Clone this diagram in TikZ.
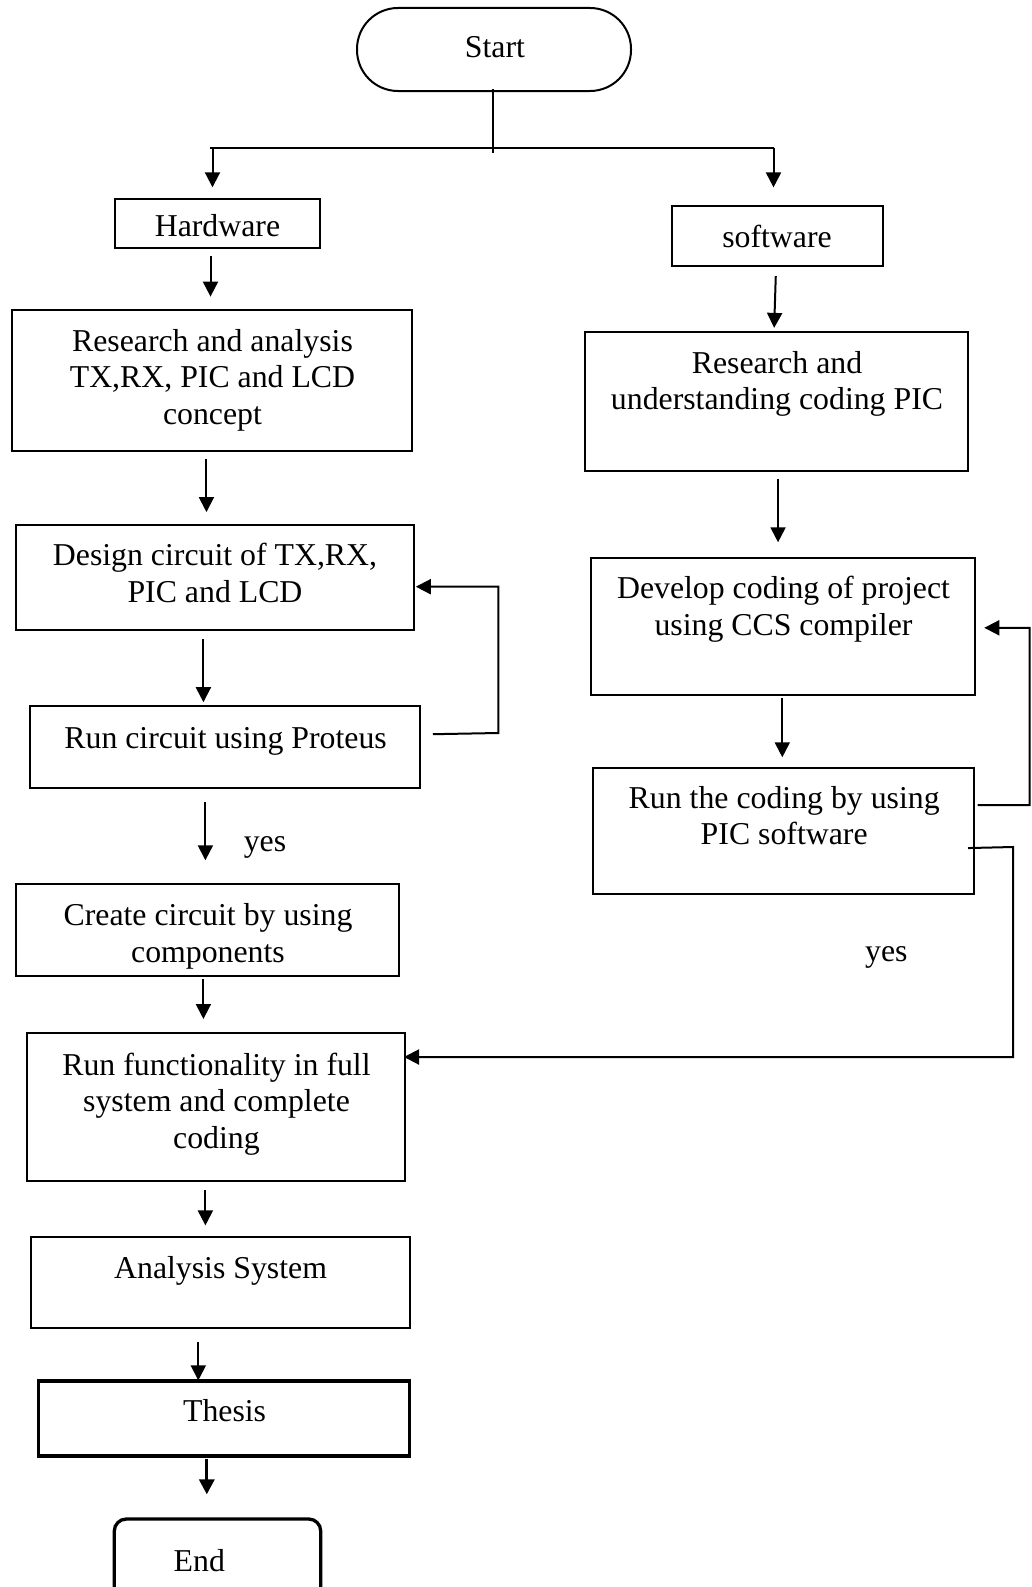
\documentclass[tikz,border=0pt]{standalone}
\usepackage{fontspec}
\setmainfont{Liberation Serif}
\usetikzlibrary{arrows.meta}
\begin{document}
\begin{tikzpicture}[x=1pt,y=-1pt,
  box/.style={draw, line width=2pt, inner sep=0pt},
  thickbox/.style={draw, line width=3.3pt, inner sep=0pt},
  txt/.style={font=\fontsize{31.8}{36.6}\selectfont, align=center, inner sep=0pt},
  arr/.style={line width=2pt, -{Triangle[length=15pt,width=15pt]}},
  thickarr/.style={line width=3.3pt, -{Triangle[length=15pt,width=15pt]}},
  ln/.style={line width=2pt}]
\useasboundingbox (0,0) rectangle (1031,1587);
% boxes
\node[box, rounded corners=41pt, minimum width=274pt, minimum height=83pt] (start) at (494,49.5) {};
\node[box, minimum width=204.4pt, minimum height=48.6pt] (hw) at (217.5,223.6) {};
\node[box, minimum width=211.5pt, minimum height=59.7pt] (sw) at (777.55,236.25) {};
\node[box, minimum width=399.7pt, minimum height=141.7pt] (ra) at (211.95,380.45) {};
\node[box, minimum width=383.5pt, minimum height=138.6pt] (ru) at (776.55,401.2) {};
\node[box, minimum width=397.6pt, minimum height=105.2pt] (dc) at (215,577.7) {};
\node[box, minimum width=384pt, minimum height=137pt] (dev) at (783,626.8) {};
\node[box, minimum width=389.5pt, minimum height=82pt] (rp) at (225.15,747.2) {};
\node[box, minimum width=381.6pt, minimum height=126.7pt] (rc) at (783.5,831.05) {};
\node[box, minimum width=382.4pt, minimum height=92.1pt] (cc) at (207.4,930.35) {};
\node[box, minimum width=377.4pt, minimum height=147.8pt] (rf) at (216,1106.9) {};
\node[box, minimum width=378.4pt, minimum height=90.1pt] (as) at (220.6,1282.45) {};
\node[thickbox, minimum width=371pt, minimum height=75pt] (th) at (223.8,1418.5) {};
\node[thickbox, rounded corners=12pt, minimum width=206.4pt, minimum height=84pt] (end) at (217.5,1561) {};
% texts
\node[txt] (tstart) at (495,47.5) {Start};
\node[txt] (thw) at (217.5,225.6) {Hardware};
\node[txt] (tsw) at (777,236.8) {software};
\node[txt] (tra) at (212.5,380) {Research and analysis\\TX,RX, PIC and LCD\\concept};
\node[txt] (tru) at (777,384) {Research and\\understanding coding PIC};
\node[txt] (tdc) at (215,573) {Design circuit of TX,RX,\\PIC and LCD};
\node[txt] (tdev) at (783.5,609.5) {Develop coding of project\\using CCS compiler};
\node[txt] (trp) at (225.6,741) {Run circuit using Proteus};
\node[txt] (trc) at (784.2,815.5) {Run the coding by using\\PIC software};
\node[txt] (tcc) at (208,936.5) {Create circuit by using\\components};
\node[txt] (trf) at (216.5,1104) {Run functionality in full\\system and complete\\coding};
\node[txt] (tas) at (220.6,1271) {Analysis System};
\node[txt] (tth) at (224.6,1410.4) {Thesis};
\node[txt] (tend) at (199.3,1561) {End};
\node[txt] (yes1) at (265,847.5) {yes};
\node[txt] (yes2) at (886.3,957.6) {yes};
% junction
\coordinate (j) at (493.3,147.7);
\coordinate (jl) at (212.5,147.7);
\coordinate (jr) at (773.5,147.7);
\draw[ln] ([yshift=3pt]start.south -| j) -- ([yshift=-5pt]j);
\draw[ln] ([xshift=-3pt]jl) -- (jr);
\draw[arr, shorten >=11pt] (jl) -- (jl |- hw.north);
\draw[arr, shorten >=18pt] (jr) -- (jr |- sw.north);
% main arrows
\draw[arr, shorten <=7pt, shorten >=12pt] ([xshift=-7pt]hw.south) -- ([xshift=-7pt]hw.south |- ra.north);
\draw[arr, shorten <=9pt, shorten >=3pt] ([xshift=-1.5pt]sw.south) -- ([xshift=-2.5pt]ru.north);
\draw[arr, shorten <=7pt, shorten >=12pt] ([xshift=-5.5pt]ra.south) -- ([xshift=-5.5pt]ra.south |- dc.north);
\draw[arr, shorten <=7pt, shorten >=15pt] ([xshift=1.5pt]ru.south) -- ([xshift=1.5pt]ru.south |- dev.north);
\draw[arr, shorten <=8pt, shorten >=3pt] ([xshift=-11.6pt]dc.south) -- ([xshift=-11.6pt]dc.south |- rp.north);
\draw[arr, shorten <=1.5pt, shorten >=9.4pt] ([xshift=-0.7pt]dev.south) -- ([xshift=-0.7pt]dev.south |- rc.north);
\draw[arr, shorten <=13pt, shorten >=23pt] ([xshift=-19.75pt]rp.south) -- ([xshift=-19.75pt]rp.south |- cc.north);
\draw[arr, shorten <=2pt, shorten >=13pt] ([xshift=-4pt]cc.south) -- ([xshift=-4pt]cc.south |- rf.north);
\draw[arr, shorten <=8pt, shorten >=11pt] ([xshift=-10.6pt]rf.south) -- ([xshift=-10.6pt]rf.south |- as.north);
\draw[arr, shorten <=13pt, shorten >=-1pt] ([xshift=-22.3pt]as.south) -- ([xshift=-22.3pt]as.south |- th.north);
\draw[thickarr, shorten <=1pt, shorten >=23pt] ([xshift=-17pt]th.south) -- ([xshift=-17pt]th.south |- end.north);
% feedback loops
\coordinate (fl) at (498.3,733);
\draw[arr] ([xshift=12pt,yshift=13pt]rp.east) -- (fl) |- ([xshift=1pt,yshift=-9pt]dc.east);
\coordinate (fr1) at (1029.5,805);
\draw[arr] ([xshift=2.4pt,yshift=26pt]rc.east) -- (fr1) |- ([xshift=8.3pt,yshift=-1pt]dev.east);
\coordinate (fr2) at (1013,847);
\draw[arr] ([xshift=-7.3pt,yshift=-17pt]rc.east) -- (fr2) |- ([xshift=-1.7pt,yshift=49.9pt]rf.east);
\end{tikzpicture}
\end{document}
